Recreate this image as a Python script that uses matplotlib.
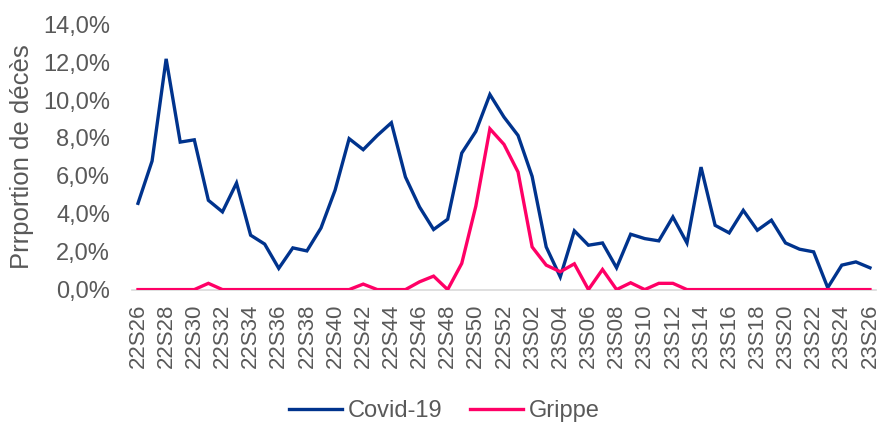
import matplotlib
matplotlib.use("Agg")
import matplotlib.pyplot as plt
from matplotlib.ticker import FuncFormatter

# weeks 22S26 .. 22S52, then 23S01 .. 23S26
weeks = [f"22S{w:02d}" for w in range(26, 53)] + [f"23S{w:02d}" for w in range(1, 27)]

covid = [4.55, 6.78, 12.17, 7.78, 7.90, 4.71, 4.10, 5.62, 2.87, 2.40,
         1.12, 2.20, 2.04, 3.25, 5.24, 7.96, 7.38, 8.13, 8.80, 5.94,
         4.36, 3.17, 3.71, 7.20, 8.34, 10.29, 9.10, 8.13, 5.97, 2.25,
         0.67, 3.10, 2.34, 2.46, 1.15, 2.92, 2.69, 2.57, 3.83, 2.46,
         6.46, 3.39, 2.99, 4.18, 3.13, 3.66, 2.46, 2.13, 1.99, 0.10,
         1.29, 1.46, 1.15]
grippe = [0, 0, 0, 0, 0, 0.33, 0, 0, 0, 0,
          0, 0, 0, 0, 0, 0, 0.29, 0, 0, 0,
          0.41, 0.71, 0, 1.38, 4.40, 8.48, 7.66, 6.20, 2.25, 1.29,
          0.94, 1.36, 0, 1.06, 0, 0.36, 0, 0.33, 0.33, 0,
          0, 0, 0, 0, 0, 0, 0, 0, 0, 0,
          0, 0, 0]

COVID_COLOR = "#00338D"
GRIPPE_COLOR = "#FF0066"
TEXT_COLOR = "#595959"
FONT_SIZE = 17

plt.rcParams["font.family"] = ["Liberation Sans", "DejaVu Sans"]

fig = plt.figure(figsize=(8.83, 4.24), dpi=100)
ax = fig.add_axes([0.1499, 0.317, 0.8417, 0.626])

x = list(range(len(weeks)))
ax.plot(x, [v / 100 for v in covid], color=COVID_COLOR, lw=2.4, label="Covid-19", solid_joinstyle="miter")
ax.plot(x, [v / 100 for v in grippe], color=GRIPPE_COLOR, lw=2.4, label="Grippe", solid_joinstyle="miter")

ax.set_xlim(-0.4, len(weeks) - 0.6)
ax.set_ylim(0, 0.14)
ax.set_yticks([i / 100 for i in range(0, 15, 2)])
ax.yaxis.set_major_formatter(FuncFormatter(lambda v, _: f"{v * 100:.1f}%".replace(".", ",")))
ax.set_xticks(x[::2])
ax.set_xticklabels(weeks[::2], rotation=90)

for side in ("top", "right", "left"):
    ax.spines[side].set_visible(False)
ax.spines["bottom"].set_color("#D9D9D9")
ax.spines["bottom"].set_linewidth(1.2)
ax.spines["bottom"].set_zorder(0)
ax.tick_params(axis="both", length=0, labelcolor=TEXT_COLOR)
ax.tick_params(axis="y", pad=16, labelsize=FONT_SIZE)
ax.tick_params(axis="x", pad=10, labelsize=16)

fig.text(0.025, 0.63, "Prrportion de décès", rotation=90, ha="center", va="center",
         fontsize=18.5, color=TEXT_COLOR)

fig.legend(loc="center", bbox_to_anchor=(0.503, 0.03), ncol=2, frameon=False,
           fontsize=FONT_SIZE, labelcolor=TEXT_COLOR, handlelength=2.25, columnspacing=1.15,
           handletextpad=0.25)

fig.savefig("out.png", dpi=100)
